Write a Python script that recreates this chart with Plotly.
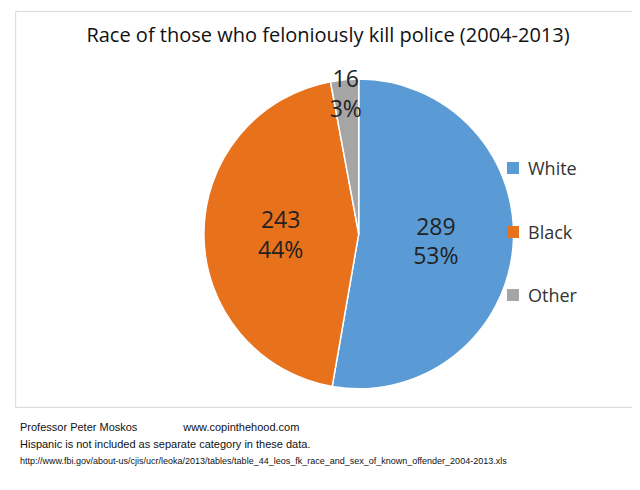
import plotly.graph_objects as go

labels = ["White", "Black", "Other"]
counts = [289, 243, 16]
colors = ["#5B9BD5", "#E8711C", "#A5A5A5"]

fig = go.Figure()
fig.add_trace(go.Pie(
    labels=labels, values=counts, sort=False, direction="clockwise", rotation=0,
    marker=dict(colors=colors, line=dict(color="white", width=1.5)),
    texttemplate="%{value}<br>%{percent:.0%}", textposition="inside",
    insidetextorientation="horizontal",
    textfont=dict(size=23, color="#222222"),
    domain=dict(x=[0.306, 0.79], y=[0.223, 0.855]),
    hoverinfo="label+value+percent", showlegend=False,
))

# legend drawn manually to match the wide entry spacing
shapes = [dict(type="rect", xref="paper", yref="paper", x0=0.012, x1=0.988, y0=0.185, y1=0.993,
               line=dict(color="#D9D9D9", width=1))]
annotations = []
legend_y = [160, 224, 287]
for lab, col, py in zip(labels, colors, legend_y):
    yc = 1 - py / 490
    shapes.append(dict(type="rect", xref="paper", yref="paper",
                       x0=499 / 640, x1=511 / 640, y0=yc - 6 / 490, y1=yc + 6 / 490,
                       fillcolor=col, line=dict(width=0)))
    annotations.append(dict(text=lab, x=518 / 640, y=yc, xref="paper", yref="paper",
                            xanchor="left", yanchor="middle", showarrow=False,
                            font=dict(size=18, color="#333")))

foot = dict(xref="paper", yref="paper", xanchor="left", yanchor="middle", showarrow=False, x=0.015)
annotations += [
    dict(text="Professor Peter Moskos&nbsp;&nbsp;&nbsp;&nbsp;&nbsp;&nbsp;&nbsp;&nbsp;&nbsp;&nbsp;&nbsp;&nbsp;&nbsp;&nbsp;&nbsp;www.copinthehood.com",
         y=0.145, font=dict(size=11, family="Liberation Sans", color="#111"), **foot),
    dict(text="Hispanic is not included as separate category in these data.",
         y=0.11, font=dict(size=11, family="Liberation Sans", color="#111"), **foot),
    dict(text="http://www.fbi.gov/about-us/cjis/ucr/leoka/2013/tables/table_44_leos_fk_race_and_sex_of_known_offender_2004-2013.xls",
         y=0.075, font=dict(size=9, family="Liberation Sans", color="#111"), **foot),
]

fig.update_layout(
    width=640, height=490, margin=dict(l=0, r=0, t=0, b=0),
    paper_bgcolor="white", font=dict(family="Open Sans, Liberation Sans", color="#222"),
    uniformtext=dict(minsize=22, mode="show"),
    title=dict(text="Race of those who feloniously kill police (2004-2013)",
               x=0.5, xanchor="center", y=0.945, yanchor="middle", font=dict(size=20, color="#111")),
    shapes=shapes, annotations=annotations,
)

fig.write_html("out.html")
